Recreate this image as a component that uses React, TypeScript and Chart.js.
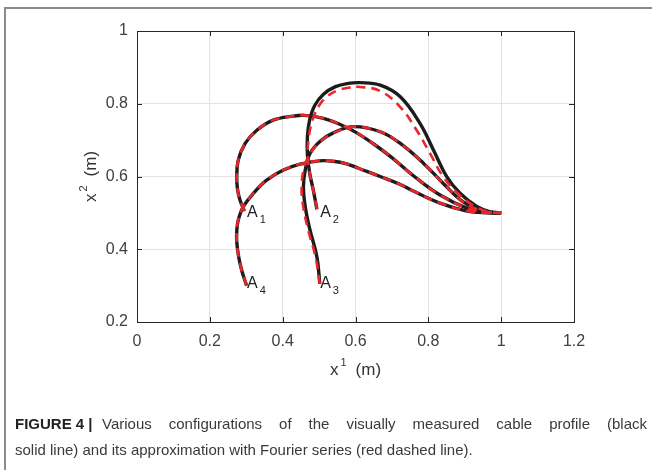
import React, { useEffect, useRef } from "react";
import { Chart, registerables } from "chart.js";
Chart.register(...registerables);

// ---------- data ----------
const xTicks = [0, 0.2, 0.4, 0.6, 0.8, 1, 1.2];
const yTicks = [0.2, 0.4, 0.6, 0.8, 1];

// measured cable profiles (black solid)
const measuredA1: number[][] = [
  [0.295, 0.505], [0.283, 0.535], [0.276, 0.565], [0.274, 0.6], [0.278, 0.645],
  [0.297, 0.691], [0.329, 0.727], [0.374, 0.755], [0.43, 0.766], [0.46, 0.768],
  [0.512, 0.76], [0.558, 0.743], [0.6, 0.722], [0.649, 0.69], [0.7, 0.652],
  [0.759, 0.602], [0.832, 0.549], [0.906, 0.513], [0.955, 0.502], [1, 0.5],
];
const measuredA2: number[][] = [
  [0.494, 0.51], [0.484, 0.563], [0.474, 0.61], [0.468, 0.66], [0.468, 0.71],
  [0.474, 0.755], [0.488, 0.795], [0.512, 0.826], [0.545, 0.847], [0.58, 0.856],
  [0.613, 0.858], [0.668, 0.851], [0.723, 0.819], [0.777, 0.746], [0.814, 0.673],
  [0.851, 0.599], [0.887, 0.554], [0.933, 0.518], [0.97, 0.503], [1, 0.5],
];
const measuredA3: number[][] = [
  [0.502, 0.305], [0.494, 0.379], [0.475, 0.453], [0.462, 0.517], [0.457, 0.572],
  [0.462, 0.618], [0.475, 0.663], [0.503, 0.697], [0.539, 0.72], [0.594, 0.737],
  [0.668, 0.723], [0.723, 0.691], [0.787, 0.636], [0.841, 0.581], [0.896, 0.53],
  [0.951, 0.505], [1, 0.5],
];
const measuredA4: number[][] = [
  [0.301, 0.3], [0.288, 0.34], [0.279, 0.38], [0.274, 0.42], [0.274, 0.45],
  [0.278, 0.48], [0.292, 0.517], [0.32, 0.554], [0.356, 0.59], [0.402, 0.618],
  [0.448, 0.634], [0.5, 0.643], [0.539, 0.642], [0.576, 0.635], [0.61, 0.622],
  [0.668, 0.6], [0.723, 0.578], [0.759, 0.56], [0.832, 0.527], [0.906, 0.505],
  [0.96, 0.5], [1, 0.5],
];

// Fourier approximations (red dashed)
const fourierA1: number[][] = measuredA1;
const fourierA2: number[][] = [
  [0.494, 0.51], [0.484, 0.563], [0.474, 0.61], [0.469, 0.66], [0.472, 0.71],
  [0.482, 0.755], [0.5, 0.795], [0.522, 0.82], [0.549, 0.836], [0.58, 0.844],
  [0.613, 0.846], [0.668, 0.835], [0.723, 0.791], [0.768, 0.727], [0.805, 0.663],
  [0.841, 0.599], [0.887, 0.548], [0.933, 0.515], [0.97, 0.502], [1, 0.5],
];
const fourierA3: number[][] = [
  [0.502, 0.305], [0.49, 0.38], [0.47, 0.453], [0.456, 0.52], [0.452, 0.572],
  [0.458, 0.62], [0.474, 0.66], [0.5, 0.693], [0.537, 0.718], [0.594, 0.737],
  [0.668, 0.723], [0.723, 0.691], [0.787, 0.636], [0.841, 0.581], [0.896, 0.53],
  [0.951, 0.505], [1, 0.5],
];
const fourierA4: number[][] = measuredA4;

// point labels (text, subscript, x, y)
const pointLabels: [string, string, number, number][] = [
  ["A", "1", 0.302, 0.489],
  ["A", "2", 0.503, 0.489],
  ["A", "3", 0.503, 0.293],
  ["A", "4", 0.302, 0.293],
];

const xTitle = ["x", "1", "(m)"];
const yTitle = ["x", "2", "(m)"];

const BLACK = "#1c1c1c";
const RED = "#e8262b";
const AXIS = "#262626";
const FONT = '"Liberation Sans", Arial, sans-serif';

const toPts = (a: number[][]) => a.map(([x, y]) => ({ x, y }));

const decorPlugin = {
  id: "decor",
  afterDraw(chart: any) {
    const { ctx, chartArea: ca, scales } = chart;
    const xs = scales.x, ys = scales.y;
    ctx.save();
    // box
    ctx.strokeStyle = AXIS;
    ctx.lineWidth = 1;
    ctx.strokeRect(Math.round(ca.left) + 0.5, Math.round(ca.top) + 0.5,
      Math.round(ca.right - ca.left), Math.round(ca.bottom - ca.top));
    // inward ticks
    ctx.beginPath();
    const tl = 5;
    xTicks.forEach((v) => {
      const px = Math.round(xs.getPixelForValue(v)) + 0.5;
      ctx.moveTo(px, ca.bottom); ctx.lineTo(px, ca.bottom - tl);
      ctx.moveTo(px, ca.top); ctx.lineTo(px, ca.top + tl);
    });
    yTicks.forEach((v) => {
      const py = Math.round(ys.getPixelForValue(v)) + 0.5;
      ctx.moveTo(ca.left, py); ctx.lineTo(ca.left + tl, py);
      ctx.moveTo(ca.right, py); ctx.lineTo(ca.right - tl, py);
    });
    ctx.stroke();

    // point labels
    ctx.fillStyle = "#222";
    ctx.textBaseline = "alphabetic";
    ctx.textAlign = "left";
    pointLabels.forEach(([t, s, x, y]) => {
      const px = xs.getPixelForValue(x);
      const py = ys.getPixelForValue(y);
      ctx.font = `16px ${FONT}`;
      ctx.fillText(t, px, py);
      const w = ctx.measureText(t).width;
      ctx.font = `11px ${FONT}`;
      ctx.fillText(s, px + w + 2, py + 6);
    });

    // axis titles
    const drawTitle = (parts: string[], cx: number, cy: number, rot: boolean) => {
      ctx.save();
      ctx.translate(cx, cy);
      if (rot) ctx.rotate(-Math.PI / 2);
      ctx.fillStyle = "#333";
      ctx.textAlign = "left";
      ctx.textBaseline = "alphabetic";
      ctx.font = `17px ${FONT}`;
      const w1 = ctx.measureText(parts[0]).width;
      const w3 = ctx.measureText(parts[2]).width;
      ctx.font = `11px ${FONT}`;
      const w2 = ctx.measureText(parts[1]).width;
      const total = w1 + 2 + w2 + 9 + w3;
      const x0 = -total / 2;
      ctx.font = `17px ${FONT}`;
      ctx.fillText(parts[0], x0, 6);
      ctx.font = `11px ${FONT}`;
      ctx.fillText(parts[1], x0 + w1 + 2, -3);
      ctx.font = `17px ${FONT}`;
      ctx.fillText(parts[2], x0 + w1 + 2 + w2 + 9, 6);
      ctx.restore();
    };
    drawTitle(xTitle, (ca.left + ca.right) / 2, 369, false);
    drawTitle(yTitle, 90, (ca.top + ca.bottom) / 2, true);
    ctx.restore();
  },
};

export default function App() {
  const ref = useRef<HTMLCanvasElement>(null);
  useEffect(() => {
    if (!ref.current) return;
    const mk = (data: number[][], color: string, width: number, dash: number[], order: number) => ({
      data: toPts(data),
      borderColor: color,
      borderWidth: width,
      borderDash: dash,
      showLine: true,
      pointRadius: 0,
      tension: 0.4,
      fill: false,
      order,
      borderCapStyle: "butt" as const,
    });
    const chart = new Chart(ref.current, {
      type: "scatter",
      data: {
        datasets: [
          mk(fourierA1, RED, 2.6, [9, 6], 0),
          mk(fourierA2, RED, 2.6, [9, 6], 0),
          mk(fourierA3, RED, 2.6, [9, 6], 0),
          mk(fourierA4, RED, 2.6, [9, 6], 0),
          mk(measuredA1, BLACK, 3.4, [], 1),
          mk(measuredA2, BLACK, 3.4, [], 1),
          mk(measuredA3, BLACK, 3.4, [], 1),
          mk(measuredA4, BLACK, 3.4, [], 1),
        ],
      },
      options: {
        animation: false,
        responsive: false,
        devicePixelRatio: 1,
        layout: { padding: { left: 0, top: 31, right: 78, bottom: 78 } },
        plugins: { legend: { display: false }, tooltip: { enabled: false } },
        scales: {
          x: {
            type: "linear",
            min: 0,
            max: 1.2,
            afterBuildTicks: (s: any) => { s.ticks = xTicks.map((v) => ({ value: v })); },
            afterFit: (s: any) => { s.height = 70; },
            grid: { color: "#e3e3e3", drawTicks: false, lineWidth: 1 },
            border: { display: false },
            ticks: {
              padding: 10, color: "#404040", autoSkip: false, maxRotation: 0,
              font: { family: FONT, size: 16 },
              callback: (v: any) => String(v),
            },
          },
          y: {
            type: "linear",
            min: 0.2,
            max: 1,
            afterBuildTicks: (s: any) => { s.ticks = yTicks.map((v) => ({ value: v })); },
            afterFit: (s: any) => { s.width = 137; },
            grid: { color: "#e3e3e3", drawTicks: false, lineWidth: 1 },
            border: { display: false },
            ticks: {
              padding: 9, color: "#404040", autoSkip: false,
              font: { family: FONT, size: 16 },
              callback: (v: any) => String(v),
            },
          },
        },
      },
      plugins: [decorPlugin],
    } as any);
    return () => chart.destroy();
  }, []);

  const captionStyle: React.CSSProperties = {
    position: "absolute", fontFamily: FONT, fontSize: 15,
    lineHeight: "20px", color: "#3a3a3a", whiteSpace: "nowrap",
  };

  return (
    <div style={{ position: "absolute", left: 0, top: 0, width: 652, height: 470, overflow: "hidden", background: "#fff" }}>
      <div style={{ position: "absolute", left: 4, top: 7, width: 700, height: 500, borderLeft: "2px solid #8c8c8c", borderTop: "2px solid #8c8c8c" }} />
      <canvas ref={ref} width={652} height={470} style={{ position: "absolute", left: 0, top: 0, width: 652, height: 470 }} />
      <div style={{ ...captionStyle, left: 15, top: 414, fontWeight: "bold", color: "#222" }}>FIGURE 4 |</div>
      <div style={{ ...captionStyle, left: 102, top: 414, width: 545, whiteSpace: "normal", textAlign: "justify", textAlignLast: "justify" }}>
        Various configurations of the visually measured cable profile (black
      </div>
      <div style={{ ...captionStyle, left: 15, top: 440 }}>
        solid line) and its approximation with Fourier series (red dashed line).
      </div>
    </div>
  );
}
